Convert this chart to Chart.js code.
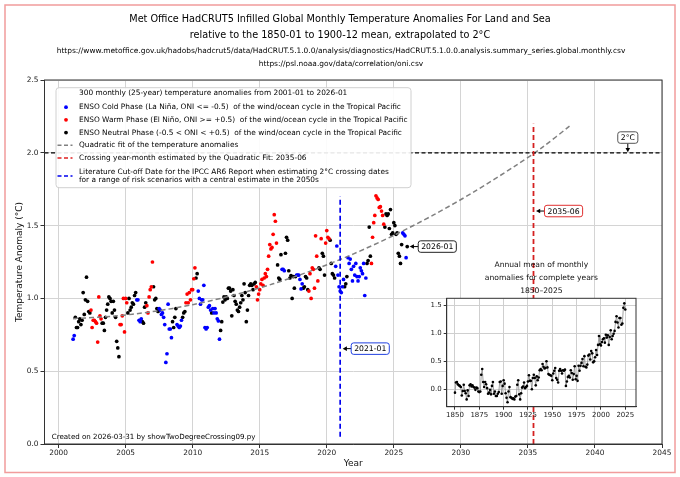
<!DOCTYPE html>
<html><head><meta charset="utf-8">
<script src="https://cdn.jsdelivr.net/npm/chart.js@4.4.1/dist/chart.umd.min.js"></script>
<style>
html,body{margin:0;padding:0;background:#fff;}
#wrap{position:relative;width:680px;height:477px;overflow:hidden;}
#main{position:absolute;left:0;top:0;width:680px;height:477px;}
#inset{position:absolute;left:415px;top:255px;width:225px;height:170px;}
</style></head><body>
<div id="wrap"><canvas id="main" width="680" height="477"></canvas><canvas id="inset" width="225" height="170"></canvas></div>
<script>
// ---------------- DATA ----------------
const titleLines = [
  "Met Office HadCRUT5 Infilled Global Monthly Temperature Anomalies For Land and Sea",
  "relative to the 1850-01 to 1900-12 mean, extrapolated to 2°C"
];
const sourceLines = [
  "https://www.metoffice.gov.uk/hadobs/hadcrut5/data/HadCRUT.5.1.0.0/analysis/diagnostics/HadCRUT.5.1.0.0.analysis.summary_series.global.monthly.csv",
  "https://psl.noaa.gov/data/correlation/oni.csv"
];
const footnote = "Created on 2026-03-31 by showTwoDegreeCrossing09.py";

// monthly anomalies (°C), first value = 2001-02, last = 2026-01 (one row per year)
const monthlyStartYear = 2001;
const monthlyStartMonth = 2;
const monthlyAnomaly = [
  0.72,0.745,0.87,0.80,0.80,0.84,0.86,0.82,0.85,1.04,0.89,
  0.99,1.146,0.98,0.91,0.90,0.92,0.80,0.85,0.85,0.84,0.83,0.70,
  1.01,0.88,0.86,0.83,0.83,0.78,0.87,0.92,0.96,1.01,1.00,0.98,
  0.90,0.98,0.92,0.87,0.705,0.66,0.60,0.82,0.82,0.88,1.00,0.77,
  1.00,0.97,0.90,1.00,0.92,0.94,0.97,0.96,1.02,1.04,0.99,0.99,
  0.85,0.84,0.86,0.84,0.83,0.94,0.97,0.95,0.90,1.01,1.06,1.08,
  1.25,1.08,0.99,1.00,0.93,0.91,0.93,0.92,0.89,0.90,0.87,0.82,
  0.56,0.62,0.96,0.79,0.79,0.73,0.84,0.80,0.87,0.93,0.82,0.81,
  0.80,0.81,0.85,0.87,0.90,0.91,0.97,1.03,0.97,1.04,0.99,1.06,
  1.06,1.135,1.21,1.14,1.17,1.05,1.00,0.96,0.99,0.99,1.09,0.80,
  0.79,0.80,0.94,0.95,0.92,0.90,0.93,0.90,0.93,0.90,0.86,0.845,
  0.72,0.78,0.84,0.975,1.01,0.99,1.01,1.00,1.07,1.07,1.05,0.88,
  1.06,1.02,0.98,0.96,0.92,0.91,0.94,0.97,1.02,0.99,1.10,1.04,
  0.84,0.92,1.02,1.09,1.10,1.09,1.06,1.10,1.11,1.08,0.99,1.03,
  1.06,1.10,1.13,1.09,1.14,1.17,1.15,1.20,1.29,1.37,1.34,1.35,
  1.44,1.575,1.53,1.38,1.23,1.14,1.13,1.30,1.20,1.20,1.19,1.31,
  1.42,1.40,1.19,1.14,1.157,1.00,1.15,1.07,1.15,1.16,1.16,1.16,
  1.13,1.065,1.10,1.07,1.08,1.15,1.14,1.06,1.05,1.17,1.00,1.21,
  1.20,1.07,1.43,1.29,1.12,1.21,1.20,1.41,1.31,1.29,1.16,1.38,
  1.466,1.42,1.41,1.40,1.24,1.17,1.16,1.14,1.22,1.36,1.16,1.08,
  1.05,1.04,1.08,1.13,1.08,1.10,1.15,1.28,1.24,1.27,1.20,1.12,
  1.22,1.16,1.24,1.15,1.12,1.15,1.21,1.19,1.17,1.24,1.02,1.14,
  1.24,1.26,1.49,1.29,1.24,1.42,1.52,1.57,1.705,1.69,1.68,1.625,
  1.63,1.60,1.57,1.51,1.49,1.58,1.57,1.58,1.48,1.61,1.44,1.45,
  1.52,1.50,1.44,1.45,1.31,1.29,1.24,1.37,1.45,1.44,1.43,1.28,
  1.356
];
// ENSO phase per month (C = cold / La Niña, W = warm / El Niño, N = neutral)
const ensoPhaseByYear = [
  "CCNNNNNNNNN","NNNNNWWWWWWW","WWWNNNNNNNNN","NNNNNNNWWWWW","WWNNNNNNNNCC",
  "CCCNNNNWWWWW","WNNNNNCCCCCC","CCCCCCNNNNCC","CCCNNNWWWWWW","WWWNNCCCCCCC",
  "CCCCCNCCCCCC","CNNNNNNNNNNN","NNNNNNNNNNNN","NNNNNNNNNWWW","WWWWWWWWWWWW",
  "WWWWNNNNCCCN","NNNNNNNNNCCC","CCCNNNNNWWWW","WWWWWNNWNNNW","WWWNNNNNCCCC",
  "CCCCNNNCCCCC","CCCCCCCCCCCC","NNNNWWWWWWWW","WWWWNNNNNNNN","NNNNNNNNCCCC",
  "N"
];

const fitYears  = [2001.08,2004,2007,2010,2013,2016,2019,2022,2025,2028,2031,2034,2036,2038.2];
const fitValues = [0.861,0.877,0.909,0.957,1.021,1.100,1.195,1.306,1.433,1.575,1.733,1.907,2.032,2.19];

const targetLevel = 2.0;          // 2 °C
const crossingYear = 2035 + 5/12; // 2035-06
const crossingLineTop = 2.2;
const cutoffYear = 2021.0;        // 2021-01
const cutoffLineRange = [0.05, 1.70];

const xTickValues = [2000,2005,2010,2015,2020,2025,2030,2035,2040,2045];
const yTickValues = [0.0,0.5,1.0,1.5,2.0,2.5];

const legendLabels = [
  "300 monthly (25-year) temperature anomalies from 2001-01 to 2026-01",
  "ENSO Cold Phase (La Niña, ONI <= -0.5)  of the wind/ocean cycle in the Tropical Pacific",
  "ENSO Warm Phase (El Niño, ONI >= +0.5)  of the wind/ocean cycle in the Tropical Pacific",
  "ENSO Neutral Phase (-0.5 < ONI < +0.5)  of the wind/ocean cycle in the Tropical Pacific",
  "Quadratic fit of the temperature anomalies",
  "Crossing year-month estimated by the Quadratic Fit: 2035-06",
  "Literature Cut-off Date for the IPCC AR6 Report when estimating 2°C crossing dates|for a range of risk scenarios with a central estimate in the 2050s"
];

// inset: annual means 1850-2025
const annualStartYear = 1850;
const annualAnomaly = [
  -0.06,0.12,0.13,0.09,0.07,0.06,0.04,-0.11,-0.03,0.08,
  -0.03,-0.07,-0.18,-0.02,-0.12,0.07,0.09,0.05,0.07,0.04,
  0.03,-0.01,0.03,0.02,-0.04,-0.05,-0.04,0.26,0.36,0.13,
  0.04,0.13,0.09,0.02,-0.08,-0.06,-0.01,-0.09,0.06,0.13,
  -0.08,-0.04,-0.12,-0.12,-0.08,-0.05,0.13,0.14,-0.08,0.06,
  0.16,0.10,-0.07,-0.15,-0.23,-0.04,0.04,-0.14,-0.15,-0.17,
  -0.16,-0.18,-0.13,-0.12,0.08,0.16,-0.09,-0.18,-0.07,0.03,
  0.05,0.12,0.02,0.04,0.06,0.14,0.25,0.15,0.15,0.00,
  0.20,0.26,0.20,0.07,0.23,0.16,0.21,0.34,0.36,0.34,
  0.45,0.40,0.37,0.38,0.50,0.39,0.27,0.26,0.25,0.24,
  0.16,0.28,0.33,0.38,0.20,0.17,0.12,0.33,0.36,0.33,
  0.28,0.34,0.33,0.35,0.06,0.14,0.22,0.24,0.21,0.34,
  0.29,0.17,0.27,0.41,0.18,0.24,0.15,0.42,0.33,0.42,
  0.47,0.54,0.41,0.59,0.40,0.39,0.44,0.60,0.62,0.53,
  0.68,0.64,0.48,0.50,0.57,0.70,0.61,0.79,0.95,0.80,
  0.78,0.84,0.89,0.91,0.83,0.97,0.92,0.96,0.79,0.93,
  1.05,0.89,0.95,0.99,1.04,1.20,1.30,1.19,1.10,1.27,
  1.27,1.15,1.17,1.45,1.53,1.42
];
const insetTitle = ["Annual mean of monthly","anomalies for complete years","1850–2025"];
const insetXTicks = [1850,1875,1900,1925,1950,1975,2000,2025];
const insetYTicks = [0.0,0.5,1.0,1.5];

// ---------------- BUILD ----------------
const FONT = "'DejaVu Sans', 'Liberation Sans', sans-serif";
Chart.defaults.font.family = FONT;
Chart.defaults.color = '#222';

const phases = ensoPhaseByYear.join('');
const coldPts = [], warmPts = [], neutralPts = [];
monthlyAnomaly.forEach((v, i) => {
  const p = {x: monthlyStartYear + (monthlyStartMonth - 1 + i) / 12, y: v};
  const ph = phases[i];
  if (ph === 'C') coldPts.push(p); else if (ph === 'W') warmPts.push(p); else neutralPts.push(p);
});
const lastPoint = {x: monthlyStartYear + (monthlyStartMonth - 1 + monthlyAnomaly.length - 1) / 12,
                   y: monthlyAnomaly[monthlyAnomaly.length - 1]};
const fitPts = fitYears.map((x, i) => ({x, y: fitValues[i]}));

const X_MIN = 1998.95, X_MAX = 2045;

function roundRect(ctx, x, y, w, h, r) {
  ctx.beginPath();
  ctx.moveTo(x + r, y);
  ctx.lineTo(x + w - r, y); ctx.quadraticCurveTo(x + w, y, x + w, y + r);
  ctx.lineTo(x + w, y + h - r); ctx.quadraticCurveTo(x + w, y + h, x + w - r, y + h);
  ctx.lineTo(x + r, y + h); ctx.quadraticCurveTo(x, y + h, x, y + h - r);
  ctx.lineTo(x, y + r); ctx.quadraticCurveTo(x, y, x + r, y);
  ctx.closePath();
}
function arrowHead(ctx, tx, ty, dx, dy) {
  const L = 4.2, W = 2.3;
  const bx = tx - dx * L, by = ty - dy * L;
  ctx.beginPath();
  ctx.moveTo(tx, ty);
  ctx.lineTo(bx - dy * W, by + dx * W);
  ctx.lineTo(bx + dy * W, by - dx * W);
  ctx.closePath(); ctx.fill();
}
function tag(ctx, text, ax, ay, dir, border) {
  ctx.font = "7.7px " + FONT;
  const tw = ctx.measureText(text).width;
  const w = tw + 6, h = 11.5;
  let bx, by;
  ctx.strokeStyle = '#000'; ctx.fillStyle = '#000'; ctx.lineWidth = 1;
  if (dir === 'right') {
    bx = ax + 11; by = ay - h / 2;
    ctx.beginPath(); ctx.moveTo(bx, ay); ctx.lineTo(ax + 5, ay); ctx.stroke();
    arrowHead(ctx, ax + 2.5, ay, -1, 0);
  } else {
    bx = ax - w / 2; by = ay - 9.5 - h;
    ctx.beginPath(); ctx.moveTo(ax, by + h); ctx.lineTo(ax, ay - 3); ctx.stroke();
    arrowHead(ctx, ax, ay - 0.5, 0, 1);
  }
  roundRect(ctx, bx, by, w, h, 2.5);
  ctx.fillStyle = '#fff'; ctx.fill();
  ctx.strokeStyle = border; ctx.lineWidth = 1; ctx.stroke();
  ctx.fillStyle = '#000'; ctx.textAlign = 'left'; ctx.textBaseline = 'middle';
  ctx.fillText(text, bx + 3, by + h / 2 + 0.5);
}

const decorPlugin = {
  id: 'decor',
  afterDatasetsDraw(chart) {
    const {ctx, chartArea: a, scales: {x, y}} = chart;
    ctx.save();
    ctx.strokeStyle = '#333'; ctx.lineWidth = 1;
    ctx.strokeRect(a.left, a.top, a.right - a.left, a.bottom - a.top);
    tag(ctx, '2°C', x.getPixelForValue(2042.45), y.getPixelForValue(targetLevel), 'up', '#555');
    tag(ctx, '2035-06', x.getPixelForValue(crossingYear), y.getPixelForValue(1.6), 'right', '#e03030');
    tag(ctx, '2021-01', x.getPixelForValue(cutoffYear), y.getPixelForValue(0.655), 'right', '#2040e0');
    tag(ctx, '2026-01', x.getPixelForValue(lastPoint.x), y.getPixelForValue(lastPoint.y), 'right', '#222');
    ctx.restore();
  },
  afterDraw(chart) {
    const {ctx} = chart;
    ctx.save();
    ctx.fillStyle = '#000'; ctx.textAlign = 'center'; ctx.textBaseline = 'middle';
    ctx.font = "9.7px " + FONT;
    ctx.fillText(titleLines[0], 340, 19);
    ctx.fillText(titleLines[1], 340, 35);
    ctx.font = "7.45px " + FONT;
    ctx.fillText(sourceLines[0], 341, 51.5);
    ctx.fillText(sourceLines[1], 341, 64.5);
    ctx.textAlign = 'left'; ctx.font = "7.1px " + FONT;
    ctx.fillText(footnote, 51.7, 437);
    // legend
    const L = {x: 56, y: 87.7, w: 355, h: 100};
    roundRect(ctx, L.x, L.y, L.w, L.h, 3);
    ctx.fillStyle = 'rgba(255,255,255,0.9)'; ctx.fill();
    ctx.strokeStyle = '#d0d0d0'; ctx.lineWidth = 1; ctx.stroke();
    const rowY = [93.4, 107.2, 119.8, 132.6, 145.3, 158.0, 176.0];
    ctx.font = "7.4px " + FONT; ctx.fillStyle = '#000'; ctx.textBaseline = 'middle';
    const dotColors = [null, '#0000ff', '#ff0000', '#000000'];
    const lineColors = ['#808080', '#e02020', '#0000ee'];
    legendLabels.forEach((lab, i) => {
      const yy = rowY[i];
      if (i >= 1 && i <= 3) {
        ctx.fillStyle = dotColors[i];
        ctx.beginPath(); ctx.arc(66, yy, 1.9, 0, Math.PI * 2); ctx.fill();
      } else if (i >= 4) {
        ctx.strokeStyle = lineColors[i - 4]; ctx.lineWidth = 1.6; ctx.setLineDash([4, 2.5]);
        ctx.beginPath(); ctx.moveTo(57.5, yy); ctx.lineTo(72.5, yy); ctx.stroke();
        ctx.setLineDash([]);
      }
      ctx.fillStyle = '#000';
      const parts = lab.split('|');
      if (parts.length === 1) ctx.fillText(lab, 79, yy);
      else { ctx.fillText(parts[0], 79, yy - 4.3); ctx.fillText(parts[1], 79, yy + 4.3); }
    });
    ctx.strokeStyle = 'rgba(232,90,90,0.6)'; ctx.lineWidth = 1.5;
    ctx.strokeRect(5, 5, 670, 467.5);
    ctx.restore();
  }
};

new Chart(document.getElementById('main'), {
  type: 'scatter',
  data: {datasets: [
    {data: neutralPts, backgroundColor: '#000', pointRadius: 1.85, pointBorderWidth: 0, order: 7},
    {data: warmPts, backgroundColor: '#ff0000', pointRadius: 1.85, pointBorderWidth: 0, order: 6},
    {data: coldPts, backgroundColor: '#0000ff', pointRadius: 1.85, pointBorderWidth: 0, order: 5},
    {data: fitPts, showLine: true, borderColor: '#808080', borderWidth: 1.5, borderDash: [5, 3], pointRadius: 0, tension: 0.3, order: 4},
    {data: [{x: X_MIN, y: targetLevel}, {x: X_MAX, y: targetLevel}], showLine: true, borderColor: '#000', borderWidth: 1.2, borderDash: [4, 2.5], pointRadius: 0, order: 3},
    {data: [{x: crossingYear, y: 0}, {x: crossingYear, y: crossingLineTop}], showLine: true, borderColor: '#d42020', borderWidth: 1.8, borderDash: [5, 3], pointRadius: 0, order: 2},
    {data: [{x: cutoffYear, y: cutoffLineRange[0]}, {x: cutoffYear, y: cutoffLineRange[1]}], showLine: true, borderColor: '#0000ee', borderWidth: 1.7, borderDash: [5, 3], pointRadius: 0, order: 1}
  ]},
  options: {
    responsive: false, animation: false, events: [],
    layout: {padding: {left: 0, right: 18, top: 80, bottom: 0}},
    plugins: {legend: {display: false}, tooltip: {enabled: false}},
    scales: {
      x: {
        type: 'linear', min: X_MIN, max: X_MAX,
        afterBuildTicks: s => { s.ticks = xTickValues.map(v => ({value: v})); },
        afterFit: s => { s.height = 33; },
        ticks: {callback: v => String(v), font: {size: 7.4}, color: '#222', padding: 1, maxRotation: 0, autoSkip: false},
        grid: {color: '#d4d4d4', lineWidth: 1, tickColor: '#333', tickLength: 4},
        border: {color: '#333', width: 1},
        title: {display: true, text: 'Year', font: {size: 9}, color: '#111', padding: {top: 0, bottom: 8}}
      },
      y: {
        type: 'linear', min: 0, max: 2.5,
        afterBuildTicks: s => { s.ticks = yTickValues.map(v => ({value: v})); },
        afterFit: s => { s.width = 44.5; },
        ticks: {callback: v => Number(v).toFixed(1), font: {size: 7.4}, color: '#222', padding: 2},
        grid: {color: '#d4d4d4', lineWidth: 1, tickColor: '#333', tickLength: 4},
        border: {color: '#333', width: 1},
        title: {display: true, text: 'Temperature Anomaly (°C)', font: {size: 9}, color: '#111', padding: {top: 14, bottom: 0}}
      }
    }
  },
  plugins: [decorPlugin]
});

// ---------------- INSET ----------------
const annualPts = annualAnomaly.map((v, i) => ({x: annualStartYear + i, y: v}));
const insetPlugin = {
  id: 'insetDecor',
  beforeDraw(chart) {
    const {ctx, chartArea: a} = chart;
    ctx.save(); ctx.fillStyle = '#fff';
    ctx.fillRect(a.left, a.top, a.right - a.left, a.bottom - a.top);
    ctx.fillStyle = '#111'; ctx.font = "7.6px " + FONT; ctx.textAlign = 'center'; ctx.textBaseline = 'middle';
    const cx = (a.left + a.right) / 2;
    ctx.fillText(insetTitle[0], cx, 10);
    ctx.fillText(insetTitle[1], cx, 23.3);
    ctx.fillText(insetTitle[2], cx, 36);
    ctx.restore();
  },
  afterDatasetsDraw(chart) {
    const {ctx, chartArea: a} = chart;
    ctx.save(); ctx.strokeStyle = '#333'; ctx.lineWidth = 1;
    ctx.strokeRect(a.left, a.top, a.right - a.left, a.bottom - a.top);
    ctx.restore();
  }
};
new Chart(document.getElementById('inset'), {
  type: 'scatter',
  data: {datasets: [
    {data: annualPts, showLine: true, borderColor: '#8a8a8a', borderWidth: 0.8,
     backgroundColor: '#000', pointRadius: 1.3, pointBorderWidth: 0}
  ]},
  options: {
    responsive: false, animation: false, events: [],
    layout: {padding: {left: 0, right: 3.3, top: 43.3, bottom: 0}},
    plugins: {legend: {display: false}, tooltip: {enabled: false}},
    scales: {
      x: {
        type: 'linear', min: 1841.5, max: 2036,
        afterBuildTicks: s => { s.ticks = insetXTicks.map(v => ({value: v})); },
        afterFit: s => { s.height = 18.3; },
        ticks: {callback: v => String(v), font: {size: 7}, color: '#222', padding: 1, maxRotation: 0, autoSkip: false},
        grid: {color: '#cfcfcf', lineWidth: 1, tickColor: '#333', tickLength: 3},
        border: {color: '#333', width: 1}
      },
      y: {
        type: 'linear', min: -0.31, max: 1.62,
        afterBuildTicks: s => { s.ticks = insetYTicks.map(v => ({value: v})); },
        afterFit: s => { s.width = 31.7; },
        ticks: {callback: v => Number(v).toFixed(1), font: {size: 7}, color: '#222', padding: 2},
        grid: {color: '#cfcfcf', lineWidth: 1, tickColor: '#333', tickLength: 3},
        border: {color: '#333', width: 1}
      }
    }
  },
  plugins: [insetPlugin]
});
</script>
</body></html>
